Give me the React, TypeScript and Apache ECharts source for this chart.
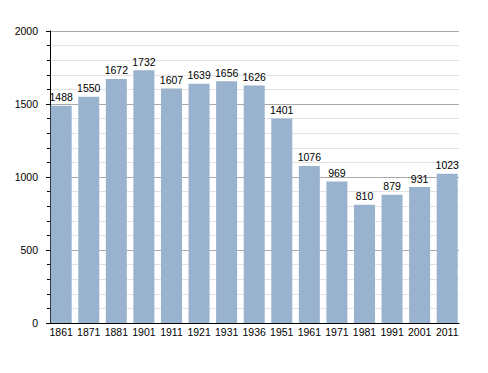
import React, { useEffect, useRef } from "react";
import * as echarts from "echarts";

const years = ["1861", "1871", "1881", "1901", "1911", "1921", "1931", "1936", "1951", "1961", "1971", "1981", "1991", "2001", "2011"];
const population = [1488, 1550, 1672, 1732, 1607, 1639, 1656, 1626, 1401, 1076, 969, 810, 879, 931, 1023];
const yTicks = { min: 0, max: 2000, interval: 500 };

export default function App() {
  const ref = useRef<HTMLDivElement>(null);
  useEffect(() => {
    if (!ref.current) return;
    const chart = echarts.init(ref.current, undefined, { renderer: "svg" });
    const font = "Liberation Sans, Arial, sans-serif";
    chart.setOption({
      animation: false,
      grid: [
        { left: 50, right: 29, top: 31, bottom: 50, containLabel: false },
        { left: 47.4, right: 27, top: 31, bottom: 50, containLabel: false },
      ],
      xAxis: [
        {
          type: "category",
          gridIndex: 0,
          data: years,
          axisLine: { show: true, lineStyle: { color: "#000", width: 1 } },
          axisTick: { show: false },
          axisLabel: { show: false },
          splitLine: { show: false },
          z: 5,
        },
        {
          type: "category",
          gridIndex: 1,
          data: years,
          boundaryGap: true,
          axisLine: { show: false },
          axisTick: { show: false },
          axisLabel: { color: "#000", fontSize: 10.5, fontFamily: font, margin: 3, interval: 0 },
          splitLine: { show: false },
        },
      ],
      yAxis: [
        {
          type: "value",
          gridIndex: 0,
          min: yTicks.min,
          max: yTicks.max,
          interval: yTicks.interval,
          axisLine: { show: true, lineStyle: { color: "#000", width: 1 } },
          axisTick: { show: true, length: 4, lineStyle: { color: "#000" } },
          minorTick: { show: true, splitNumber: 5, length: 3, lineStyle: { color: "#000" } },
          axisLabel: {
            color: "#000",
            fontSize: 10.5,
            fontFamily: font,
            margin: 12,
            formatter: (v: number) => String(v),
          },
          splitLine: { show: true, lineStyle: { color: "#aaaaaa", width: 1 } },
          minorSplitLine: { show: true, lineStyle: { color: "#e2e2e2", width: 1 } },
        },
        {
          type: "value",
          gridIndex: 1,
          min: yTicks.min,
          max: yTicks.max,
          interval: yTicks.interval,
          show: false,
          splitLine: { show: false },
        },
      ],
      series: [
        {
          type: "bar",
          xAxisIndex: 1,
          yAxisIndex: 1,
          data: population,
          barWidth: 21,
          itemStyle: { color: "#99b2cd" },
          label: {
            show: true,
            position: "top",
            distance: 3,
            color: "#000",
            fontSize: 10.5,
            fontFamily: font,
          },
        },
      ],
    });
    return () => chart.dispose();
  }, []);
  return (
    <div
      ref={ref}
      style={{ position: "absolute", left: 0, top: 0, width: 488, height: 373 }}
    />
  );
}
